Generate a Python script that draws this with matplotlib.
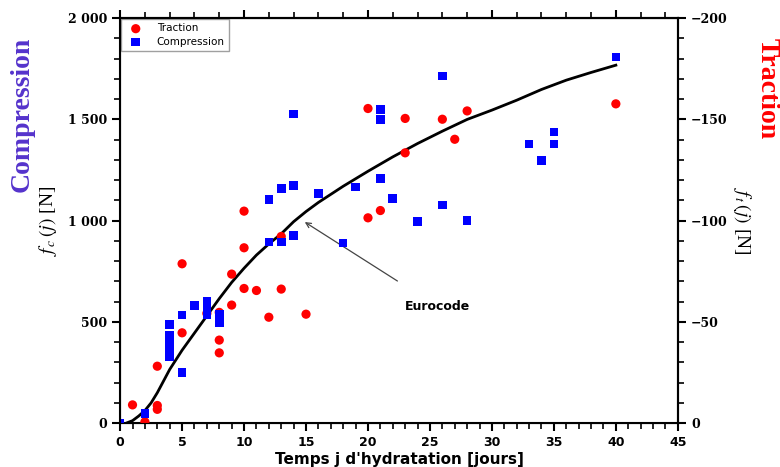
import numpy as np
import matplotlib
matplotlib.use("Agg")
import matplotlib.pyplot as plt
from matplotlib.ticker import MultipleLocator, FuncFormatter

plt.rcParams['mathtext.fontset'] = 'stix'

# traction (red circles), plotted on the compression scale
trac_x = [1, 2, 3, 3, 3, 5, 5, 7, 8, 8, 8, 9, 9, 10, 10, 10, 11, 12, 13, 13, 15,
          20, 20, 21, 23, 23, 26, 27, 28, 40]
trac_y = [90, 6, 281, 87, 68, 446, 787, 542, 547, 410, 347, 583, 736, 665, 866, 1047, 655, 523, 662, 922, 538,
          1554, 1014, 1050, 1505, 1335, 1501, 1402, 1542, 1577]

# compression (blue squares)
comp_x = [0, 2, 4, 4, 4, 4, 4, 4, 5, 5, 6, 7, 7, 7, 8, 8, 12, 12, 13, 13, 14, 14, 14,
          16, 18, 19, 21, 21, 21, 22, 24, 26, 26, 28, 33, 34, 35, 35, 40]
comp_y = [0, 48, 487, 435, 405, 365, 340, 327, 533, 249, 580, 604, 563, 537, 537, 495, 1105, 895, 1159, 895,
          1174, 928, 1526, 1134, 889, 1167, 1549, 1500, 1208, 1110, 996, 1078, 1715, 1001, 1378, 1297, 1438, 1378, 1809]

# eurocode curve
euro_x = [0.5, 1, 1.5, 2, 2.5, 3, 4, 5, 6, 7, 8, 9, 10, 11, 12, 13, 14, 15, 16, 18, 20,
          22, 24, 26, 28, 30, 32, 34, 36, 38, 40]
euro_y = [0, 12, 35, 62, 100, 150, 265, 360, 445, 530, 615, 695, 765, 830, 885, 935, 995, 1045, 1090, 1170, 1244,
          1315, 1381, 1442, 1500, 1546, 1595, 1648, 1694, 1732, 1768]

fig = plt.figure(figsize=(7.8, 4.67), dpi=100)
ax = fig.add_axes([0.154, 0.094, 0.715, 0.867])

ax.plot(euro_x, euro_y, color='black', lw=2, zorder=2)
ax.scatter(trac_x, trac_y, s=44, marker='o', color='#ff0000', label='Traction', zorder=3, edgecolors='none')
ax.scatter(comp_x, comp_y, s=38, marker='s', color='#0000ff', label='Compression', zorder=4, edgecolors='none')

ax.set_xlim(0, 45)
ax.set_ylim(0, 2000)
ax.xaxis.set_major_locator(MultipleLocator(5))
ax.xaxis.set_minor_locator(MultipleLocator(1))
ax.yaxis.set_major_locator(MultipleLocator(500))
ax.yaxis.set_minor_locator(MultipleLocator(100))
ax.yaxis.set_major_formatter(FuncFormatter(lambda v, p: f"{int(v):,}".replace(",", " ")))
ax.tick_params(which='major', direction='out', length=6, width=1.5)
ax.tick_params(which='minor', direction='out', length=4, width=1.2)
for lab in ax.get_xticklabels():
    lab.set_fontweight('bold'); lab.set_fontsize(9); lab.set_family('DejaVu Sans')
for lab in ax.get_yticklabels():
    lab.set_fontweight('bold'); lab.set_fontsize(9); lab.set_family('DejaVu Serif')
for s in ax.spines.values():
    s.set_linewidth(1.5)

# top axis: ticks only
top = ax.secondary_xaxis('top')
top.xaxis.set_major_locator(MultipleLocator(10))
top.xaxis.set_minor_locator(MultipleLocator(2))
top.tick_params(which='major', direction='out', length=6, width=1.5, labeltop=False)
top.tick_params(which='minor', direction='out', length=4, width=1.2)
top.spines['top'].set_linewidth(1.5)

# right axis: traction
ax2 = ax.twinx()
ax2.set_ylim(0, -200)
ax2.yaxis.set_major_locator(MultipleLocator(50))
ax2.yaxis.set_minor_locator(MultipleLocator(10))
ax2.tick_params(which='major', direction='out', length=6, width=1.5)
ax2.tick_params(which='minor', direction='out', length=4, width=1.2)
for lab in ax2.get_yticklabels():
    lab.set_fontweight('bold'); lab.set_fontsize(9); lab.set_family('DejaVu Serif')
ax2.spines['right'].set_linewidth(1.5)

ax.set_xlabel("Temps j d'hydratation [jours]", fontsize=11, fontweight='bold', labelpad=2)
ax.set_ylabel(r"$f_{\,c}\,(j)$ [N]", fontsize=14, family='Liberation Serif', labelpad=6)
ax2.set_ylabel(r"$f_{\,t}\,(j)$ [N]", fontsize=14, family='Liberation Serif', rotation=-90, labelpad=18)

fig.text(0.028, 0.755, "Compression", rotation=90, ha='center', va='center', fontsize=20,
         fontweight='bold', family='Liberation Serif', color='#5533cc')
fig.text(0.984, 0.81, "Traction", rotation=-90, ha='center', va='center', fontsize=20,
         fontweight='bold', family='Liberation Serif', color='#ff0000')

ax.annotate("Eurocode", xy=(14.9, 993), xytext=(23, 575), fontsize=9, fontweight='bold',
            ha='left', va='center',
            arrowprops=dict(arrowstyle='->', color='#444444', lw=0.9, shrinkA=22, shrinkB=0))

leg = ax.legend(loc='upper left', fontsize=7.5, fancybox=False, edgecolor='#888888',
                borderaxespad=0.1, handletextpad=1.0, borderpad=0.4, labelspacing=0.3)
leg.get_frame().set_linewidth(1.0)

fig.savefig("out.png", dpi=100)
